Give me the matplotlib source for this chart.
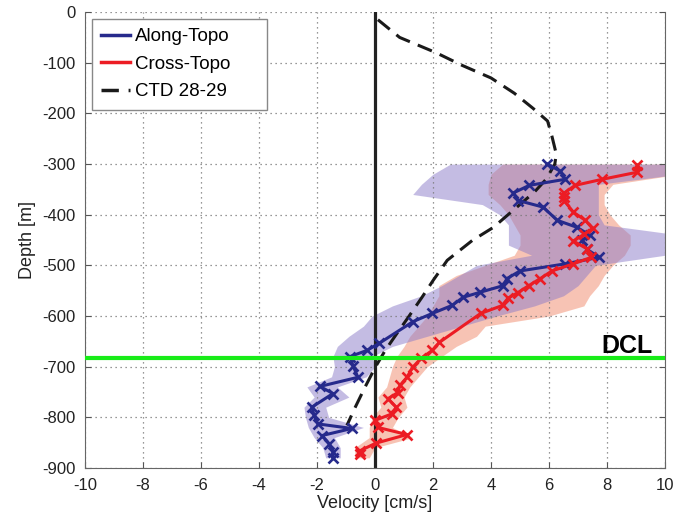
import numpy as np
import matplotlib
matplotlib.use('Agg')
import matplotlib.pyplot as plt
from matplotlib.lines import Line2D

plt.rcParams['font.family'] = ['Liberation Sans', 'DejaVu Sans']
plt.rcParams['axes.unicode_minus'] = False

# Along-Topo profile (velocity cm/s, depth m)
along_vel = [5.94, 6.39, 6.56, 5.32, 4.77, 4.94, 5.8, 6.28, 6.97, 7.42,
             7.14, 7.3, 7.73, 6.56, 5.0, 4.55, 4.42, 3.63, 3.04, 2.66,
             1.97, 1.31, 0.14, -0.28, -0.86, -0.76, -0.59, -1.9, -1.45,
             -2.18, -2.1, -1.97, -0.8, -1.83, -1.58, -1.45, -1.45]
along_depth = [-300, -314, -330, -342, -357, -372, -385, -411, -425, -441,
               -450, -468, -484, -497, -511, -526, -540, -553, -563, -579,
               -595, -611, -654, -668, -680, -698, -721, -739, -753,
               -780, -796, -813, -822, -836, -852, -869, -880]

# Cross-Topo profile
cross_vel = [9.05, 9.05, 7.84, 6.9, 6.5, 6.5, 6.52, 6.84, 7.25, 7.5,
             7.2, 6.84, 7.3, 7.46, 6.84, 6.1, 5.7, 5.3, 4.92, 4.58,
             4.4, 3.64, 2.22, 1.97, 1.6, 1.3, 1.1, 0.86, 0.79, 0.45,
             0.73, 0.59, 0.0, 0.1, 1.1, 0.03, -0.52, -0.52]
cross_depth = [-302, -316, -330, -342, -358, -365, -372, -395, -411, -427,
               -439, -452, -467, -484, -497, -511, -526, -540, -554, -565,
               -579, -595, -652, -668, -683, -701, -721, -737, -751, -763,
               -780, -793, -806, -820, -834, -851, -866, -872]

# CTD 28-29 profile
ctd_vel = [0.1, 0.85, 2.1, 3.0, 4.0, 4.8, 5.45, 5.95, 6.1, 6.25, 6.2,
           5.9, 5.5, 4.77, 4.08, 3.35, 2.49, 2.0, 1.62, 1.14, 0.76, 0.35,
           0.0, -0.35, -0.69, -0.97]
ctd_depth = [-15, -50, -80, -105, -130, -160, -190, -215, -245, -280, -300,
             -330, -355, -391, -425, -451, -490, -530, -563, -603, -634, -668,
             -702, -741, -781, -816]

# shaded spread around each profile
band_depth = [-300, -320, -340, -360, -380, -400, -420, -440, -460, -480,
              -500, -520, -540, -560, -580, -600, -620, -640, -660, -680,
              -700, -720, -740, -760, -780, -800, -820, -840, -860, -880]
along_lo = [2.6, 2.0, 1.6, 1.3, 3.7, 4.3, 4.6, 4.6, 4.6, 5.4,
            3.5, 2.9, 2.3, 1.6, 0.6, -0.1, -0.4, -0.9, -1.3, -1.45,
            -1.4, -1.5, -2.35, -2.1, -2.45, -2.4, -2.3, -2.1, -1.8, -1.7]
along_hi = [10.5, 10.5, 7.7, 7.7, 7.7, 7.7, 7.9, 10.5, 10.5, 10.0,
            7.6, 7.3, 7.0, 6.5, 5.5, 4.2, 3.0, 1.8, 0.6, -0.1,
            0.0, -0.3, -1.3, -0.9, -1.7, -1.6, -0.4, -1.4, -1.2, -1.2]
cross_lo = [4.4, 4.0, 3.9, 3.9, 4.3, 4.6, 4.8, 5.0, 5.0, 4.8,
            3.8, 2.8, 2.2, 2.2, 2.0, 1.8, 1.5, 1.2, 1.0, 0.75,
            0.6, 0.5, 0.4, 0.1, 0.2, -0.1, -0.2, -0.2, -0.7, -0.7]
cross_hi = [10.5, 10.5, 8.2, 7.9, 7.9, 8.1, 8.4, 8.8, 8.8, 8.6,
            8.2, 7.9, 7.7, 7.4, 7.2, 6.0, 3.8, 3.5, 2.8, 2.3,
            1.8, 1.5, 1.2, 1.0, 1.1, 0.8, 0.6, 1.3, 0.0, -0.2]

dcl_depth = -683

fig = plt.figure(figsize=(6.77, 5.27), dpi=100)
ax = fig.add_axes([0.1256, 0.112, 0.8567, 0.865])

ax.fill_betweenx(band_depth, cross_lo, cross_hi, color='#f1896a', alpha=0.5, lw=0)
ax.fill_betweenx(band_depth, along_lo, along_hi, color='#8b7bc9', alpha=0.5, lw=0)

ax.axvline(0, color='#222222', lw=2.3, zorder=2)
ax.plot(ctd_vel, ctd_depth, color='#1a1a1a', lw=2.2, dashes=(5, 2.8), zorder=3)
ax.plot(along_vel, along_depth, '-x', color='#262a8c', lw=2.2, ms=7.5, mew=1.9, zorder=3)
ax.plot(cross_vel, cross_depth, '-x', color='#ec1c24', lw=2.2, ms=7.5, mew=1.9, zorder=3)
ax.axhline(dcl_depth, color='#18ec18', lw=3, zorder=4)
ax.text(7.8, -673, 'DCL', fontsize=18, fontweight='bold', ha='left', va='baseline', zorder=5)

ax.set_xlim(-10, 10)
ax.set_ylim(-900, 0)
ax.set_xticks(np.arange(-10, 11, 2))
ax.set_yticks(np.arange(-900, 1, 100))
ax.grid(True, color='#777777', ls=(0, (1, 3)), lw=0.9)
ax.set_axisbelow('line')
ax.tick_params(direction='in', length=4, labelsize=12, top=False, right=True,
               colors='#555555', labelcolor='#222222', pad=7)
for side in ['left', 'bottom', 'right']:
    ax.spines[side].set_color('#666666')
ax.spines['top'].set_visible(False)

ax.set_xlabel('Velocity [cm/s]', fontsize=13, color='#222222', labelpad=2)
ax.set_ylabel('Depth [m]', fontsize=13, color='#222222', labelpad=4)

handles = [Line2D([], [], color='#262a8c', lw=2.5),
           Line2D([], [], color='#ec1c24', lw=2.5),
           Line2D([], [], color='#1a1a1a', lw=2.5, dashes=(5, 2.8))]
leg = ax.legend(handles, ['Along-Topo', 'Cross-Topo', 'CTD 28-29'],
                loc='upper left', bbox_to_anchor=(0.012, 0.0, 0.302, 0.985),
                mode='expand', borderaxespad=0, fontsize=13.5, fancybox=False,
                framealpha=1, edgecolor='#888888', handlelength=1.55,
                handletextpad=0.25, labelspacing=0.55, borderpad=0.5)
leg.get_frame().set_linewidth(1.0)

fig.savefig('out.png', dpi=100)
